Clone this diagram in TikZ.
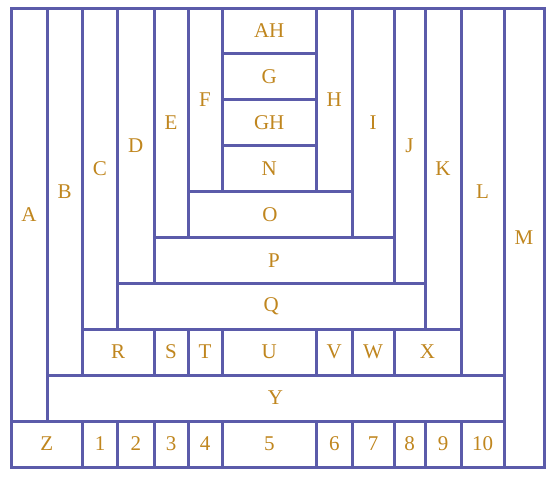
\documentclass[tikz,border=0pt]{standalone}
\usepackage{fontspec}
\setmainfont{Liberation Serif}
\definecolor{linec}{HTML}{5B5BAA}
\definecolor{textc}{HTML}{C0861E}
\newcommand\cellbox[6]{%
  \node[cellst, minimum width={(#4-#2)*1pt}, minimum height={(#5-#3)*1pt}]
    (#1) at ({(#2+#4)/2*1pt},{-(#3+#5)/2*1pt}) {#6};}
\begin{document}
\begin{tikzpicture}[x=1pt,y=-1pt,
  cellst/.style={draw=linec, line width=3pt, inner sep=0pt, rectangle,
    text=textc, font=\fontsize{21}{24}\selectfont}]
\useasboundingbox[fill=white] (0,0) rectangle (558,477);
% columns: 11 47 82.5 117.5 154 188 222 316.5 352 394 425 461 504 544
% rows: 8 53.5 99.5 145.5 191 237.5 283 329 375 421 467
\cellbox{A}{11}{8}{47}{421}{A}
\cellbox{B}{47}{8}{82.5}{375}{B}
\cellbox{C}{82.5}{8}{117.5}{329}{C}
\cellbox{D}{117.5}{8}{154}{283}{D}
\cellbox{E}{154}{8}{188}{237.5}{E}
\cellbox{F}{188}{8}{222}{191}{F}
\cellbox{AH}{222}{8}{316.5}{53.5}{AH}
\cellbox{G}{222}{53.5}{316.5}{99.5}{G}
\cellbox{GH}{222}{99.5}{316.5}{145.5}{GH}
\cellbox{N}{222}{145.5}{316.5}{191}{N}
\cellbox{H}{316.5}{8}{352}{191}{H}
\cellbox{I}{352}{8}{394}{237.5}{I}
\cellbox{J}{394}{8}{425}{283}{J}
\cellbox{K}{425}{8}{461}{329}{K}
\cellbox{L}{461}{8}{504}{375}{L}
\cellbox{M}{504}{8}{544}{467}{M}
\cellbox{O}{188}{191}{352}{237.5}{O}
\cellbox{P}{154}{237.5}{394}{283}{P}
\cellbox{Q}{117.5}{283}{425}{329}{Q}
\cellbox{R}{82.5}{329}{154}{375}{R}
\cellbox{S}{154}{329}{188}{375}{S}
\cellbox{T}{188}{329}{222}{375}{T}
\cellbox{U}{222}{329}{316.5}{375}{U}
\cellbox{V}{316.5}{329}{352}{375}{V}
\cellbox{W}{352}{329}{394}{375}{W}
\cellbox{X}{394}{329}{461}{375}{X}
\cellbox{Y}{47}{375}{504}{421}{Y}
\cellbox{Z}{11}{421}{82.5}{467}{Z}
\cellbox{n1}{82.5}{421}{117.5}{467}{1}
\cellbox{n2}{117.5}{421}{154}{467}{2}
\cellbox{n3}{154}{421}{188}{467}{3}
\cellbox{n4}{188}{421}{222}{467}{4}
\cellbox{n5}{222}{421}{316.5}{467}{5}
\cellbox{n6}{316.5}{421}{352}{467}{6}
\cellbox{n7}{352}{421}{394}{467}{7}
\cellbox{n8}{394}{421}{425}{467}{8}
\cellbox{n9}{425}{421}{461}{467}{9}
\cellbox{n10}{461}{421}{504}{467}{10}
\end{tikzpicture}
\end{document}
